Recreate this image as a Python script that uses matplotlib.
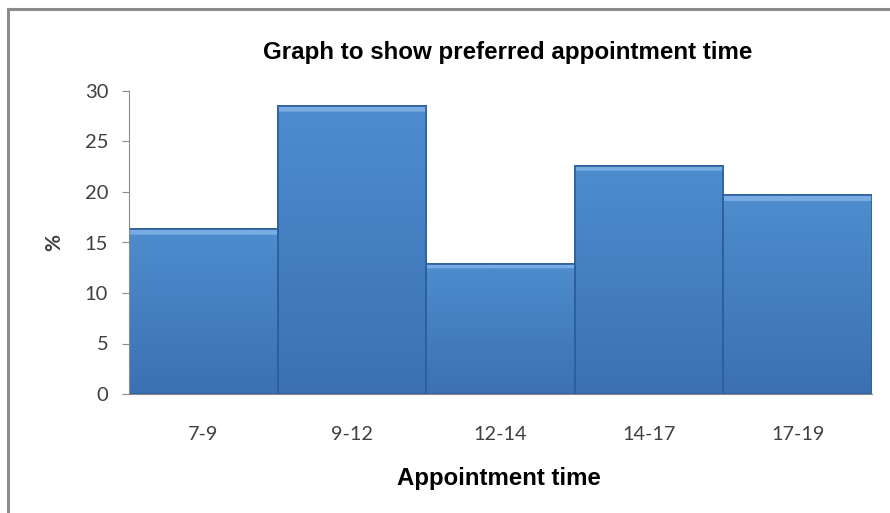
import numpy as np
import matplotlib
matplotlib.use("Agg")
from matplotlib import pyplot as plt
from matplotlib.lines import Line2D

# data
categories = ['7-9', '9-12', '12-14', '14-17', '17-19']
percent = [16.3, 28.5, 12.9, 22.6, 19.7]
y_ticks = [0, 5, 10, 15, 20, 25, 30]

W, H = 890, 513
fig = plt.figure(figsize=(W / 100, H / 100), dpi=100)
fig.patch.set_facecolor('white')

# outer chart frame (only top and left are visible in the crop)
fig.add_artist(Line2D([8 / W, 8 / W], [0, 1 - 9 / H], color='#8c8c8c', lw=2.2))
fig.add_artist(Line2D([8 / W, 1], [1 - 9 / H, 1 - 9 / H], color='#8c8c8c', lw=2.2))

ax = fig.add_axes([129 / W, 119 / H, (872 - 129) / W, (394 - 91) / H])
x = np.arange(len(categories))
bars = ax.bar(x, percent, width=1.0, color='#4683c6', edgecolor='#2d5f9c',
              linewidth=1.2, zorder=2)

# shaded fill for each bar: lighter bevel at the top, darker toward the bottom
for b in bars:
    x0, y0 = b.get_x(), b.get_y()
    w, h = b.get_width(), b.get_height()
    n = 200
    t = np.linspace(1, 0, n)[:, None]  # 1 at top, 0 at bottom
    top = np.array([0x4e, 0x8d, 0xce]) / 255
    bot = np.array([0x3b, 0x71, 0xb3]) / 255
    grad = bot + (top - bot) * t[..., None]
    grad = np.repeat(grad, 2, axis=1)
    # light bevel strip at the top of the bar
    bev = (t[:, 0] * h) > h - 0.5
    grad[bev] = np.array([0x78, 0xac, 0xe2]) / 255
    im = ax.imshow(grad, extent=(x0, x0 + w, y0, y0 + h), aspect='auto',
                   zorder=2.5, interpolation='bilinear')
    im.set_clip_path(b)
    ax.add_patch(plt.Rectangle((x0, y0), w, h, fill=False,
                               edgecolor='#2d5f9c', lw=1.2, zorder=3))

ax.set_xlim(-0.5, len(categories) - 0.5)
ax.set_ylim(0, 30)
ax.set_yticks(y_ticks)
ax.set_xticks(x)
ax.set_xticklabels(categories)

for s in ['top', 'right']:
    ax.spines[s].set_visible(False)
ax.spines['left'].set_color('#8a8a8a')
ax.spines['bottom'].set_color('#8a8a8a')
ax.spines['left'].set_zorder(4)

ax.tick_params(axis='y', direction='out', length=5, color='#8a8a8a',
               labelsize=14.5, labelcolor='#404040', pad=10)
ax.tick_params(axis='x', length=0, labelsize=14.3, labelcolor='#404040', pad=23)
for lab in ax.get_xticklabels() + ax.get_yticklabels():
    lab.set_family('Lato')

ax.set_ylabel('%', fontsize=15, color='#404040', family='Lato',
              fontweight='bold', labelpad=15)

fig.text(508 / W, 1 - 52 / H, 'Graph to show preferred appointment time',
         ha='center', va='center', fontsize=17.4, fontweight='bold',
         family='Liberation Sans', color='black')
fig.text(499 / W, 1 - 478 / H, 'Appointment time',
         ha='center', va='center', fontsize=17.3, fontweight='bold',
         family='Liberation Sans', color='black')

fig.savefig('out.png', dpi=100)
